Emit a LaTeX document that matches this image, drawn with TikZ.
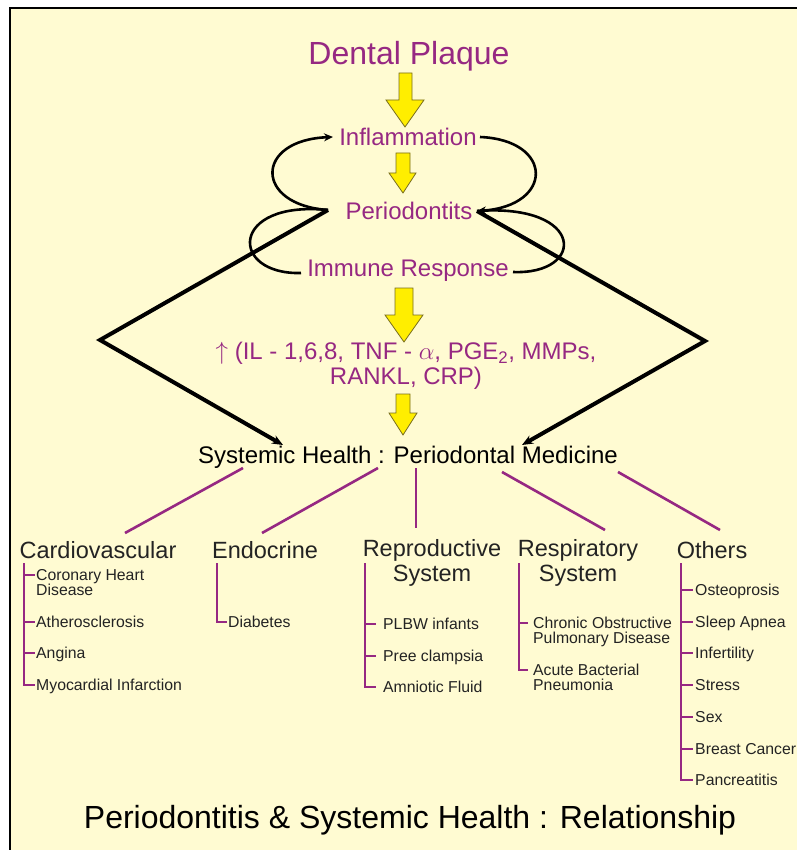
\documentclass[tikz,border=0pt]{standalone}
\usepackage{fontspec}
\setmainfont{Liberation Sans}
\usepackage{xcolor}
\definecolor{lila}{RGB}{150, 40, 130}
\definecolor{crema}{RGB}{255, 251, 210}
\definecolor{amarillo}{RGB}{255, 238, 0}
\definecolor{oliva}{RGB}{120, 110, 30}
\definecolor{tinta}{RGB}{35, 35, 35}
\usetikzlibrary{arrows.meta, calc}

\begin{document}
\begin{tikzpicture}[x=1pt, y=-1pt,
  etapa/.style={text=lila, font=\fontsize{24}{25}\selectfont, inner sep=0pt, align=center},
  grupo/.style={text=tinta, font=\fontsize{23.5}{25}\selectfont, inner sep=0pt, align=center},
  item/.style={text=tinta, font=\fontsize{15.8}{15}\selectfont, inner sep=0pt, anchor=base west, align=left},
  bloque/.style={draw=oliva, fill=amarillo, line width=0.8pt, line join=miter},
  lazo/.style={line width=2.6pt, -{Stealth[length=9pt, width=8pt]}},
  curva/.style={line width=2.6pt},
  eje/.style={line width=4pt, line join=miter, -{Stealth[length=11pt, width=9pt]}},
  rama/.style={draw=lila, line width=2.6pt}
]
  \useasboundingbox (0,0) rectangle (797,850);
  \fill[crema] (10,8) rectangle (797,850);
  \draw[line width=1.5pt] (10,850) -- (10,8) -- (797,8);

  % chain at the top
  \node[etapa, font=\fontsize{32}{34}\selectfont] (placa) at (409,56) {Dental Plaque};
  \node[etapa] (infl) at (408,137) {Inflammation};
  \node[etapa] (peri) at (409,211) {Periodontits};
  \node[etapa] (inmu) at (408,271) {Immune Response};
  \node[etapa] (cito) at (406,366) {$\uparrow$ (IL - 1,6,8, TNF - $\alpha$, PGE\textsubscript{2}, MMPs,\\RANKL, CRP)};
  \node[etapa, text=black] (sist) at (408,457) {Systemic Health : Periodontal Medicine};

  \draw[bloque] (399,73) -- (412,73) -- (412,100) -- (424,100) -- (405,127) -- (386,100) -- (399,100) -- cycle;
  \draw[bloque] (396,153) -- (410,153) -- (410,173) -- (416,173) -- (403,193) -- (389,173) -- (396,173) -- cycle;
  \draw[bloque] (395,288) -- (413,288) -- (413,315) -- (423,315) -- (404,342) -- (385,315) -- (395,315) -- cycle;
  \draw[bloque] (396,394) -- (410,394) -- (410,413) -- (417,413) -- (403,435) -- (389,413) -- (396,413) -- cycle;

  % loops
  \coordinate (pizq) at (328,210);
  \coordinate (pder) at (477,211);
  \coordinate (iizq) at (333,137);
  \coordinate (ider) at (480,137);
  \coordinate (rizq) at (301,273);
  \coordinate (rder) at (513,272);
  \draw[lazo] (pizq) .. controls (254,205) and (254,140) .. (iizq);
  \draw[lazo] (ider) .. controls (554,140) and (554,206) .. (pder);
  \draw[curva] (pizq) .. controls (229,200) and (229,275) .. (rizq);
  \draw[curva] (rder) .. controls (586,275) and (586,203) .. (pder);

  % outer routes
  \coordinate (vizq) at (100,340);
  \coordinate (vder) at (705,341);
  \draw[eje] (pizq) -- (vizq) -- (283,445);
  \draw[eje] (pder) -- (vder) -- (522,445);

  % groups
  \node[grupo] (cardio) at (98,550) {Cardiovascular};
  \node[grupo] (endo) at (265,550) {Endocrine};
  \node[grupo] (repro) at (432,562.5) {Reproductive\\System};
  \node[grupo] (resp) at (578,562.5) {Respiratory\\System};
  \node[grupo] (otros) at (712,550) {Others};

  \draw[rama] (243,468) -- (125,533);
  \draw[rama] (378,468) -- (262,533);
  \draw[rama] (416,468) -- (416,528);
  \draw[rama] (502,472) -- (605,530);
  \draw[rama] (618,472) -- (720,530);

  % items (base = last line)
  \node[item] (cv1) at (36,595.7) {Coronary Heart\\Disease};
  \node[item] (cv2) at (36,627.7) {Atherosclerosis};
  \node[item] (cv3) at (36,658.7) {Angina};
  \node[item] (cv4) at (36,690.7) {Myocardial Infarction};

  \node[item] (en1) at (228,627.7) {Diabetes};

  \node[item] (rp1) at (383,629.7) {PLBW infants};
  \node[item] (rp2) at (383,661.7) {Pree clampsia};
  \node[item] (rp3) at (383,692.7) {Amniotic Fluid};

  \node[item] (rs1) at (533,643.7) {Chronic Obstructive\\Pulmonary Disease};
  \node[item] (rs2) at (533,690.7) {Acute Bacterial\\Pneumonia};

  \node[item] (ot1) at (695,595.7) {Osteoprosis};
  \node[item] (ot2) at (695,627.7) {Sleep Apnea};
  \node[item] (ot3) at (695,658.7) {Infertility};
  \node[item] (ot4) at (695,690.7) {Stress};
  \node[item] (ot5) at (695,722.7) {Sex};
  \node[item] (ot6) at (695,754.7) {Breast Cancer};
  \node[item] (ot7) at (695,785.7) {Pancreatitis};

  \draw[rama] (24,563) |- ([shift={(-1pt,5.7pt)}]cv4.base west);
  \draw[rama] ([shift={(-12pt,20.7pt)}]cv1.base west) -- ++(11,0);
  \foreach \n in {cv2,cv3}
    \draw[rama] ([shift={(-12pt,5.7pt)}]\n.base west) -- ++(11,0);
  \draw[rama] (217,563) |- ([shift={(-1pt,5.7pt)}]en1.base west);
  \draw[rama] (365,563) |- ([shift={(-7pt,5.7pt)}]rp3.base west);
  \foreach \n in {rp1,rp2}
    \draw[rama] ([shift={(-18pt,5.7pt)}]\n.base west) -- ++(11,0);
  \draw[rama] (519,563) |- ([shift={(-5pt,20.7pt)}]rs2.base west);
  \draw[rama] ([shift={(-14pt,20.7pt)}]rs1.base west) -- ++(9,0);
  \draw[rama] (681,563) |- ([shift={(-2pt,5.7pt)}]ot7.base west);
  \foreach \n in {ot1,ot2,ot3,ot4,ot5,ot6}
    \draw[rama] ([shift={(-14pt,5.7pt)}]\n.base west) -- ++(12,0);

  \node[font=\fontsize{32}{34}\selectfont, text=black] (titulo) at (410,820) {Periodontitis \& Systemic Health : Relationship};
\end{tikzpicture}
\end{document}
